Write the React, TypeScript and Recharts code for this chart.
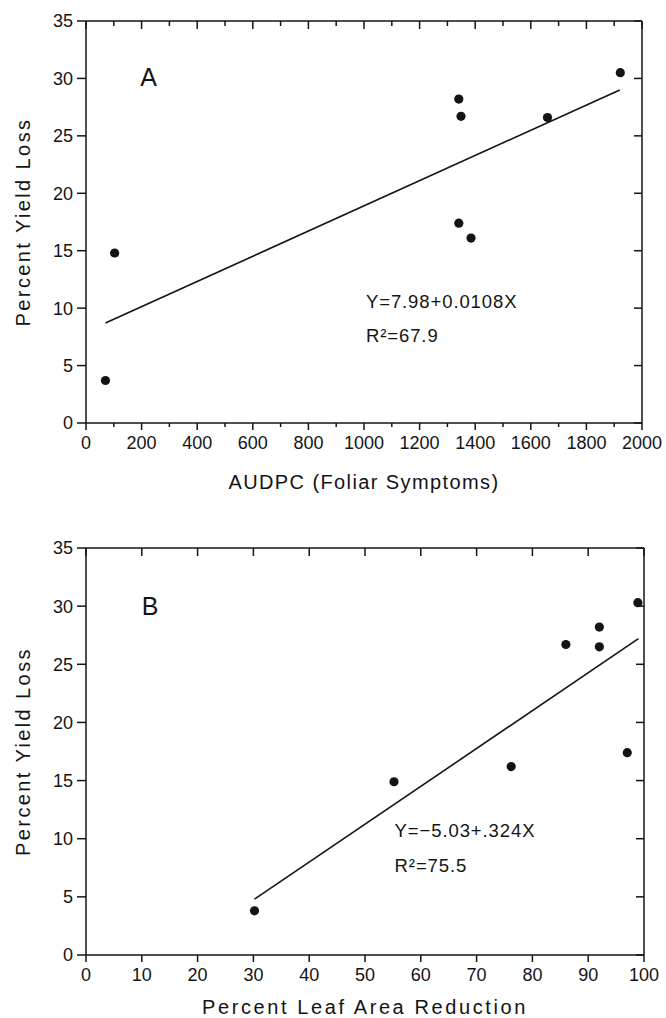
import React from 'react';
import { ReferenceDot, ReferenceLine, Label, Scatter, ScatterChart, XAxis, YAxis } from 'recharts';

// Panel A: AUDPC vs percent yield loss
const audpc = [70, 103, 1341, 1349, 1341, 1385, 1660, 1922];
const yieldLossA = [3.7, 14.8, 28.2, 26.7, 17.4, 16.1, 26.6, 30.5];
const fitAX = [70, 1920];
const fitAY = [8.7, 29.0];

// Panel B: percent leaf area reduction vs percent yield loss
const leafReduction = [30.2, 55.2, 76.2, 86.0, 92.0, 92.0, 97.0, 98.9];
const yieldLossB = [3.8, 14.9, 16.2, 26.7, 28.2, 26.5, 17.4, 30.3];
const fitBX = [30.2, 99];
const fitBY = [4.8, 27.2];

const audpcTicks = [0, 100, 200, 300, 400, 500, 600, 700, 800, 900, 1000, 1100, 1200, 1300, 1400, 1500, 1600, 1700, 1800, 1900, 2000];
const leafTicks = [0, 10, 20, 30, 40, 50, 60, 70, 80, 90, 100];
const yieldTicks = [0, 5, 10, 15, 20, 25, 30, 35];

const INK = '#141414';
const FONT = '"Liberation Sans", Arial, sans-serif';

const dataA = audpc.map((x, i) => ({ x, y: yieldLossA[i] }));
const dataB = leafReduction.map((x, i) => ({ x, y: yieldLossB[i] }));

const dot = (p: any) => <circle cx={p.cx} cy={p.cy} r={4.6} fill={INK} />;
const noDot = () => <g />;

function BottomTick(props: any) {
  const { x, y, payload, every } = props;
  const major = payload.value % every === 0;
  return (
    <g>
      <line x1={x} x2={x} y1={y} y2={y + (major ? 7 : 4)} stroke={INK} strokeWidth={1.5} />
      {major && (
        <text x={x} y={y + 26} textAnchor="middle" fontSize={18} fill={INK} fontFamily={FONT}>
          {payload.value}
        </text>
      )}
    </g>
  );
}

function TopTick(props: any) {
  const { x, y, payload, every } = props;
  const major = payload.value % every === 0;
  return <line x1={x} x2={x} y1={y} y2={y + (major ? 8 : 5)} stroke={INK} strokeWidth={1.5} />;
}

function LeftTick(props: any) {
  const { x, y, payload } = props;
  return (
    <g>
      <line x1={x} x2={x - 9} y1={y} y2={y} stroke={INK} strokeWidth={1.5} />
      <text x={x - 13} y={y} dy="0.36em" textAnchor="end" fontSize={18} fill={INK} fontFamily={FONT}>
        {payload.value}
      </text>
    </g>
  );
}

function RightTick(props: any) {
  const { x, y } = props;
  return <line x1={x} x2={x - 8} y1={y} y2={y} stroke={INK} strokeWidth={1.5} />;
}

const textAt = (value: string, size: number, spacing = 0) => (p: any) => (
  <text
    x={p.viewBox.x}
    y={p.viewBox.y}
    dy="0.36em"
    fontSize={size}
    letterSpacing={spacing}
    fill={INK}
    fontFamily={FONT}
  >
    {value}
  </text>
);

const yTitle = (p: any) => {
  const cx = p.viewBox.x + 23;
  const cy = p.viewBox.y + p.viewBox.height / 2;
  return (
    <text
      x={cx}
      y={cy}
      dy="0.36em"
      textAnchor="middle"
      transform={`rotate(-90 ${cx} ${cy})`}
      fontSize={20}
      letterSpacing={2.4}
      fill={INK}
      fontFamily={FONT}
    >
      Percent Yield Loss
    </text>
  );
};

const xTitle = (value: string, dy: number, spacing: number) => (p: any) => (
  <text
    x={p.viewBox.x + p.viewBox.width / 2}
    y={p.viewBox.y + dy}
    textAnchor="middle"
    fontSize={20}
    letterSpacing={spacing}
    fill={INK}
    fontFamily={FONT}
  >
    {value}
  </text>
);

const axisLine = { stroke: INK, strokeWidth: 1.5 };

interface PanelProps {
  data: { x: number; y: number }[];
  xTicks: number[];
  xMax: number;
  every: number;
  fitX: number[];
  fitY: number[];
  letter: string;
  letterAt: [number, number];
  eq: string;
  r2: string;
  eqAt: [number, number];
  r2At: [number, number];
  title: string;
  titleDy: number;
  titleSpacing: number;
  height: number;
  margin: { top: number; right: number; bottom: number; left: number };
  bottomHeight: number;
}

function Panel(props: PanelProps) {
  const { data, xTicks, xMax, every, fitX, fitY } = props;
  return (
    <ScatterChart width={666} height={props.height} margin={props.margin}>
      <XAxis
        type="number"
        dataKey="x"
        domain={[0, xMax]}
        ticks={xTicks}
        interval={0}
        tickSize={0}
        tickMargin={0}
        axisLine={axisLine}
        tick={<BottomTick every={every} />}
        height={props.bottomHeight}
        allowDataOverflow
      >
        <Label content={xTitle(props.title, props.titleDy, props.titleSpacing)} />
      </XAxis>
      <XAxis
        xAxisId="top"
        orientation="top"
        type="number"
        dataKey="x"
        domain={[0, xMax]}
        ticks={xTicks}
        interval={0}
        tickSize={0}
        tickMargin={0}
        axisLine={axisLine}
        tick={<TopTick every={every} />}
        height={2}
        allowDataOverflow
      />
      <YAxis
        type="number"
        dataKey="y"
        domain={[0, 35]}
        ticks={yieldTicks}
        interval={0}
        tickSize={0}
        tickMargin={0}
        axisLine={axisLine}
        tick={<LeftTick />}
        width={86}
        allowDataOverflow
      >
        <Label content={yTitle} />
      </YAxis>
      <YAxis
        yAxisId="right"
        orientation="right"
        type="number"
        dataKey="y"
        domain={[0, 35]}
        ticks={yieldTicks}
        interval={0}
        tickSize={0}
        tickMargin={0}
        axisLine={axisLine}
        tick={<RightTick />}
        width={2}
        allowDataOverflow
      />
      <ReferenceLine
        segment={[
          { x: fitX[0], y: fitY[0] },
          { x: fitX[1], y: fitY[1] },
        ]}
        stroke={INK}
        strokeWidth={1.6}
      />
      {/* invisible copy so the mirrored top/right axes get drawn */}
      <Scatter data={data} xAxisId="top" yAxisId="right" shape={noDot} legendType="none" isAnimationActive={false} />
      <Scatter data={data} shape={dot} isAnimationActive={false} />
      <ReferenceDot x={props.letterAt[0]} y={props.letterAt[1]} r={0} label={{ content: textAt(props.letter, 25) }} />
      <ReferenceDot x={props.eqAt[0]} y={props.eqAt[1]} r={0} label={{ content: textAt(props.eq, 18.5, 0.9) }} />
      <ReferenceDot x={props.r2At[0]} y={props.r2At[1]} r={0} label={{ content: textAt(props.r2, 18.5, 0.9) }} />
    </ScatterChart>
  );
}

export default function App() {
  return (
    <div style={{ position: 'absolute', left: 0, top: 0, width: 666, height: 1018, background: '#fff' }}>
      <Panel
        data={dataA}
        xTicks={audpcTicks}
        xMax={2000}
        every={200}
        fitX={fitAX}
        fitY={fitAY}
        letter="A"
        letterAt={[195, 30.1]}
        eq="Y=7.98+0.0108X"
        r2="R²=67.9"
        eqAt={[1007, 10.6]}
        r2At={[1007, 7.6]}
        title="AUDPC (Foliar Symptoms)"
        titleDy={66}
        titleSpacing={1.4}
        height={500}
        margin={{ top: 19, right: 22, bottom: 7, left: 0 }}
        bottomHeight={70}
      />
      <Panel
        data={dataB}
        xTicks={leafTicks}
        xMax={100}
        every={10}
        fitX={fitBX}
        fitY={fitBY}
        letter="B"
        letterAt={[10, 30.0]}
        eq="Y=−5.03+.324X"
        r2="R²=75.5"
        eqAt={[55.3, 10.7]}
        r2At={[55.3, 7.7]}
        title="Percent Leaf Area Reduction"
        titleDy={59}
        titleSpacing={2.6}
        height={518}
        margin={{ top: 46, right: 20, bottom: 3, left: 0 }}
        bottomHeight={60}
      />
    </div>
  );
}
